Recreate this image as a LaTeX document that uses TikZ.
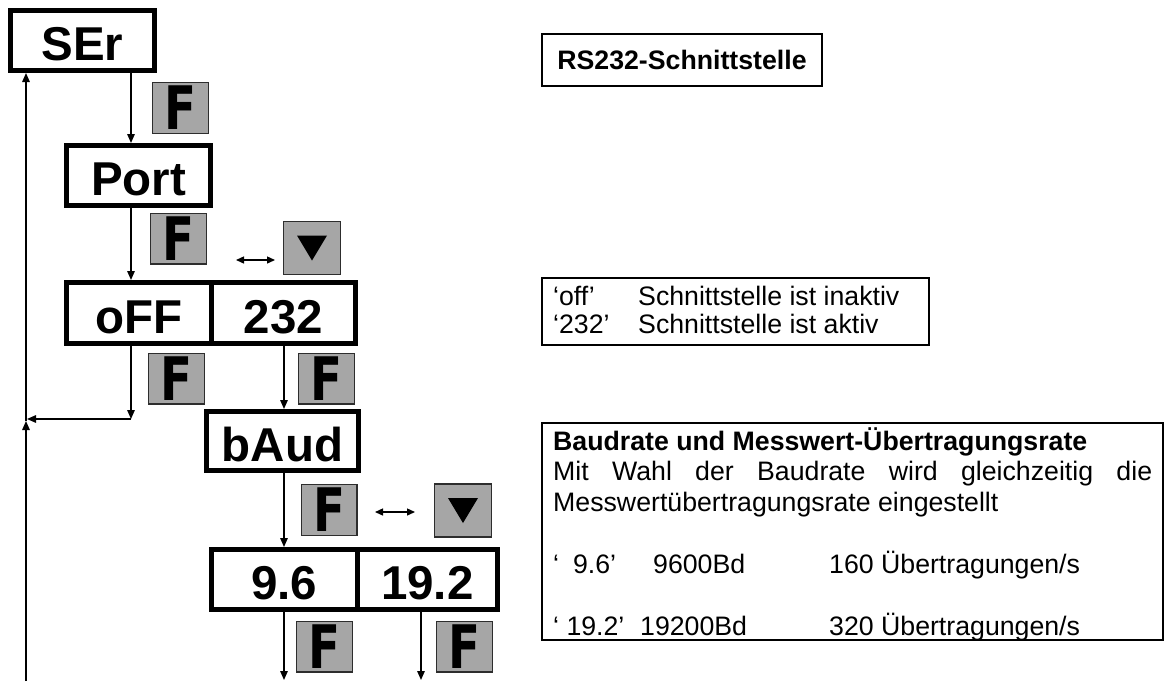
\documentclass[tikz,border=0pt]{standalone}
\usepackage{fontspec}
\setmainfont{Liberation Sans}
\newfontfamily\keyfont{DejaVu Sans}
\usetikzlibrary{arrows.meta}
\definecolor{keygray}{RGB}{166,166,166}
\definecolor{keyedge}{RGB}{45,45,45}
\begin{document}
\begin{tikzpicture}[x=1pt,y=-1pt,
  disp/.style={draw, line width=5pt, inner sep=0pt, font=\fontsize{47.5}{47.5}\selectfont\bfseries, text height=40pt, text depth=0pt},
  key/.style={draw=keyedge, fill=keygray, line width=1.2pt, minimum width=55.8pt, minimum height=50.8pt, inner sep=0pt, font=\keyfont\bfseries\fontsize{60}{60}\selectfont, text height=43.7pt, text depth=0pt},
  conn/.style={line width=1.4pt, -{Triangle[length=9pt,width=7.5pt]}},
  dbl/.style={line width=1.4pt, {Triangle[length=8pt,width=7pt]}-{Triangle[length=8pt,width=7pt]}},
  info/.style={draw, line width=1.8pt, inner sep=0pt},
  txt/.style={anchor=base west, inner sep=0pt, font=\fontsize{26.7}{30.7}\selectfont},
]
\useasboundingbox (0,0) rectangle (1171,681);

% display boxes
\node[disp, minimum width=144pt, minimum height=60pt] (ser) at (82.5,40.5) {SEr};
\node[disp, minimum width=144pt, minimum height=60pt] (port) at (138.5,175.5) {Port};
\node[disp, minimum width=144.5pt, minimum height=61pt] (off) at (138.75,313) {oFF};
\node[disp, minimum width=144.5pt, minimum height=61pt] (on) at (283.25,313) {232};
\node[disp, minimum width=152pt, minimum height=59pt] (baud) at (282.5,441) {bAud};
\node[disp, minimum width=145.5pt, minimum height=60pt] (b96) at (284.25,579.5) {9.6};
\node[disp, minimum width=140.5pt, minimum height=60pt] (b192) at (427.25,579.5) {19.2};

% keys
\node[key] (f1) at (180.5,108) {\scalebox{0.78}[1]{F}};
\node[key] (f2) at (178.5,238.5) {\scalebox{0.78}[1]{F}};
\node[key] (f3) at (176.5,378.5) {\scalebox{0.78}[1]{F}};
\node[key] (f4) at (326.5,378.5) {\scalebox{0.78}[1]{F}};
\node[key] (f5) at (329,510) {\scalebox{0.78}[1]{F}};
\node[key] (f6) at (324.5,646.5) {\scalebox{0.78}[1]{F}};
\node[key] (f7) at (464.5,646.5) {\scalebox{0.78}[1]{F}};
\node[key, minimum width=57pt, minimum height=53pt] (t1) at (312,248) {};
\node[key, minimum width=57pt, minimum height=53pt] (t2) at (463,510.5) {};
\fill (t1.center) ++(-15,-12.5) -- ++(30,0) -- ++(-15,25) -- cycle;
\fill (t2.center) ++(-15,-12.5) -- ++(30,0) -- ++(-15,25) -- cycle;

% double arrows
\coordinate (d1a) at (236,260); \coordinate (d1b) at (275,260);
\coordinate (d2a) at (375,512); \coordinate (d2b) at (415,512);
\draw[dbl] (d1a) -- (d1b);
\draw[dbl] (d2a) -- (d2b);

% connectors
\coordinate (xa) at (131,0);
\coordinate (xb) at (284,0);
\coordinate (xc) at (421,0);
\coordinate (c1) at (131,419);
\coordinate (j) at (27,419);
\coordinate (j2) at (26,421);
\coordinate (b0) at (26,681);
\coordinate (e1) at (284,680);
\coordinate (e2) at (421,680);
\draw[conn] (ser.south -| xa) -- (port.north -| xa);
\draw[conn] (port.south -| xa) -- (off.north -| xa);
\draw[conn] (off.south -| xa) -- (c1);
\draw[conn] (c1) -- (j);
\draw[conn] (b0) -- (j2);
\draw[conn] (j2) -- (ser.south -| j2);
\draw[conn] (on.south -| xb) -- (baud.north -| xb);
\draw[conn] (baud.south -| xb) -- (b96.north -| xb);
\draw[conn] (b96.south -| xb) -- (e1);
\draw[conn] (b192.south -| xc) -- (e2);

% info boxes
\node[info, minimum width=280pt, minimum height=52pt, font=\fontsize{26.7}{30.7}\selectfont\bfseries, text height=19pt, text depth=0pt] (rs) at (682,60) {RS232-Schnittstelle};

\node[info, minimum width=387pt, minimum height=67pt] (offbox) at (735.5,311.5) {};
\node[txt] (o1) at (553,305) {‘off’};
\node[txt] (o2) at (638,305) {Schnittstelle ist inaktiv};
\node[txt] (o3) at (553,333) {‘232’};
\node[txt] (o4) at (638,333) {Schnittstelle ist aktiv};

\node[info, minimum width=621pt, minimum height=217pt] (baudbox) at (852.5,531.5) {};
\node[txt, font=\fontsize{26.7}{30.7}\selectfont\bfseries] (l1) at (553,450) {Baudrate und Messwert-Übertragungsrate};
\node[txt] (l2) at (553,480) {\makebox[599pt][s]{Mit Wahl der Baudrate wird gleichzeitig die}};
\node[txt] (l3) at (553,511) {Messwertübertragungsrate eingestellt};
\node[txt] (l4a) at (553,573) {‘\hspace{14pt}9.6’};
\node[txt] (l4b) at (653,573) {9600Bd};
\node[txt] (l4c) at (829,573) {160 Übertragungen/s};
\node[txt] (l5a) at (553,635) {‘ 19.2’};
\node[txt] (l5b) at (640,635) {19200Bd};
\node[txt] (l5c) at (829,635) {320 Übertragungen/s};
\end{tikzpicture}
\end{document}
